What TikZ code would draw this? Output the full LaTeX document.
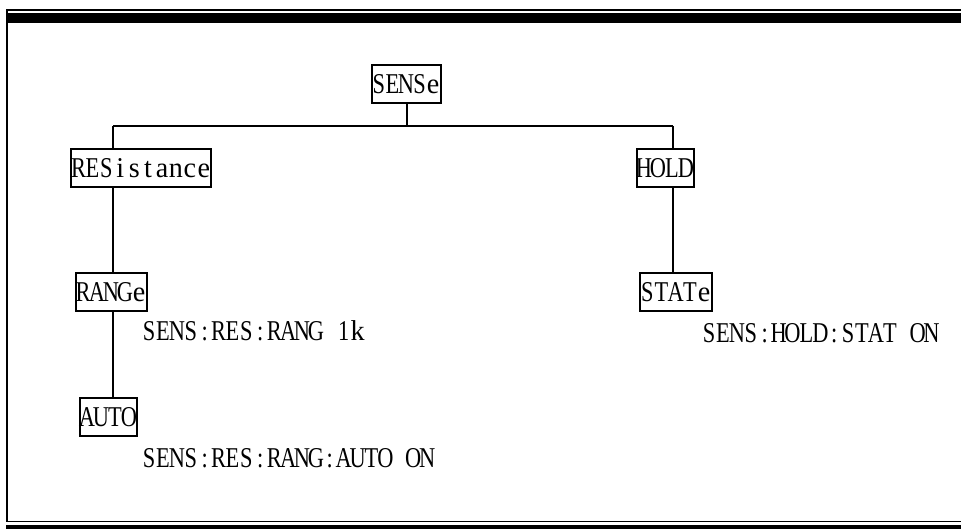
\documentclass[tikz,border=0pt]{standalone}
\usepackage{fontspec}
\newfontfamily\simfont[FakeStretch=0.78]{Liberation Serif}
\newfontfamily\simlow[FakeStretch=0.98]{Liberation Serif}
\makeatletter
\newcommand\monostr[2][13.8pt]{\def\mono@w{#1}\mono@i#2\@nil}
\def\mono@i#1{\ifx#1\@nil\else\mono@ch{#1}\expandafter\mono@i\fi}
\def\mono@ch#1{\makebox[\mono@w]{\ifnum\uccode`#1>0 \ifnum\uccode`#1=`#1 #1\else\simlow #1\fi\else #1\fi}}
\makeatother
\begin{document}
\begin{tikzpicture}[x=1pt,y=-1pt,
  cmd/.style={draw,line width=2pt,font=\simfont\fontsize{28.7pt}{29pt}\selectfont,
    minimum height=38pt,text height=19pt,text depth=0pt,inner xsep=0.5pt,inner ysep=1pt},
  code/.style={anchor=base west,inner sep=0pt,font=\simfont\fontsize{28.7pt}{29pt}\selectfont},
  link/.style={line width=1.7pt}]
\useasboundingbox (0,0) rectangle (961,529);
% frame
\fill (6,9) rectangle (961,10.6);
\fill (7,13.3) rectangle (961,22.7);
\fill (6,9) rectangle (8,522.3);
\fill (6,520.7) rectangle (961,522.3);
\fill (6,525.3) rectangle (961,529);
% nodes
\node[cmd] (sense) at (406,84.3) {\monostr[13.6pt]{SENSe}};
\node[cmd] (res) at (141.2,168) {\monostr[13.9pt]{RESistance}};
\node[cmd] (hold) at (665,167.8) {\monostr[14pt]{HOLD}};
\node[cmd] (range) at (111,292) {\monostr[14pt]{RANGe}};
\node[cmd] (state) at (675.8,292) {\monostr[14.2pt]{STATe}};
\node[cmd] (auto) at (108,416.7) {\monostr[14pt]{AUTO}};
\node[code] (c1) at (142,341) {\monostr[13.9pt]{SENS:RES:RANG~1k}};
\node[code] (c2) at (142,467) {\monostr[13.9pt]{SENS:RES:RANG:AUTO~ON}};
\node[code] (c3) at (702,342) {\monostr[13.9pt]{SENS:HOLD:STAT~ON}};
% connectors
\coordinate (busL) at (113,126);
\coordinate (busR) at (673,126);
\coordinate (busM) at (407,126);
\draw[link] (busM |- sense.south) -- (busM);
\draw[link] (busL) -- (busR);
\draw[link] (busL) -- (busL |- res.north);
\draw[link] (busR) -- (busR |- hold.north);
\draw[link] (busL |- res.south) -- (busL |- range.north);
\draw[link] (busL |- range.south) -- (busL |- auto.north);
\draw[link] (busR |- hold.south) -- (busR |- state.north);
\end{tikzpicture}
\end{document}
